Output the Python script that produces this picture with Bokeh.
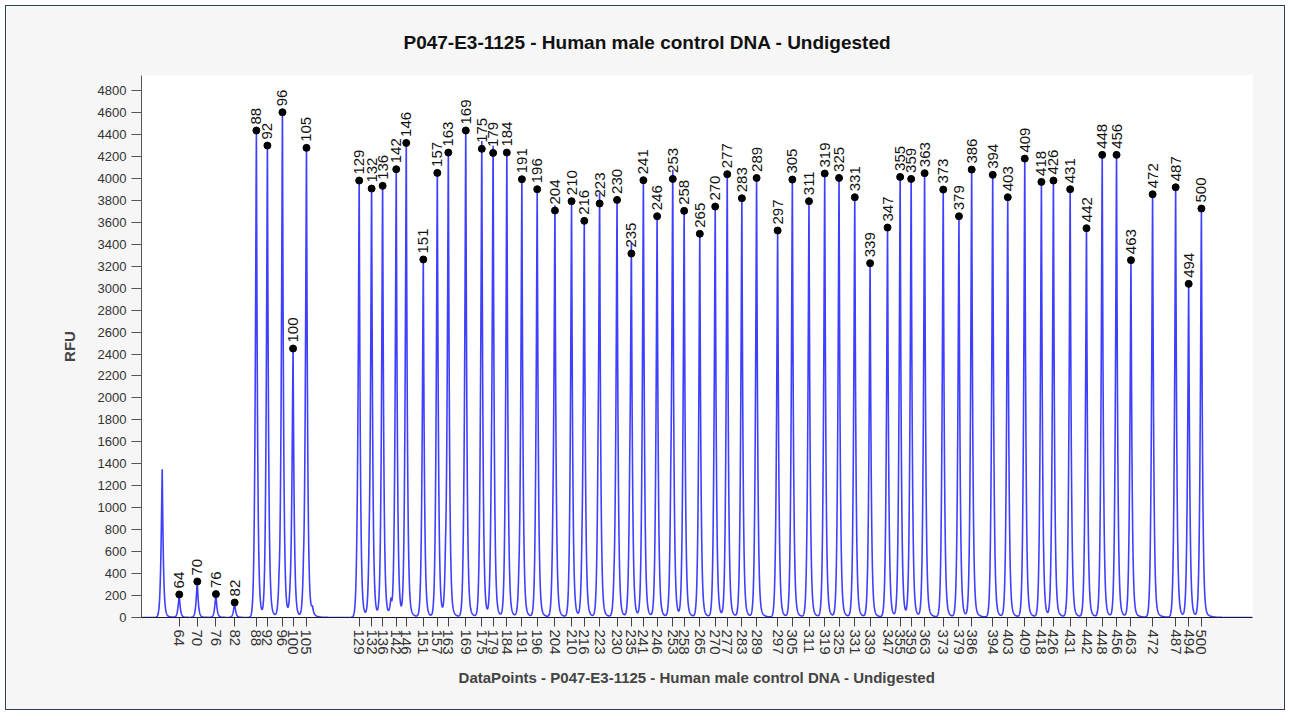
import math
import numpy as np
from bokeh.plotting import figure
from bokeh.models import Range1d, FixedTicker, ColumnDataSource
from bokeh.embed import file_html
from bokeh.resources import INLINE
from bokeh.core.properties import value

# ---- data -------------------------------------------------------------
sizes = [64, 70, 76, 82, 88, 92, 96, 100, 105, 129, 132, 136, 142, 146, 151,
         157, 163, 169, 175, 179, 184, 191, 196, 204, 210, 216, 223, 230, 235,
         241, 246, 253, 258, 265, 270, 277, 283, 289, 297, 305, 311, 319, 325,
         331, 339, 347, 355, 359, 363, 373, 379, 386, 394, 403, 409, 418, 426,
         431, 442, 448, 456, 463, 472, 487, 494, 500]

datapoints = [377, 557, 743, 930, 1147, 1257, 1407, 1513, 1647, 2173, 2297, 2407,
              2543, 2643, 2813, 2953, 3063, 3237, 3397, 3510, 3647, 3797, 3950,
              4127, 4293, 4420, 4573, 4747, 4890, 5010, 5147, 5303, 5417, 5573,
              5727, 5847, 5993, 6140, 6350, 6497, 6663, 6820, 6963, 7120, 7273,
              7447, 7573, 7683, 7817, 8003, 8160, 8287, 8497, 8647, 8817, 8983,
              9103, 9270, 9433, 9590, 9733, 9877, 10093, 10323, 10453, 10580]

rfu = [210, 328, 213, 137, 4436, 4299, 4602, 2450, 4278, 3980, 3907, 3932, 4083,
       4323, 3261, 4050, 4235, 4436, 4269, 4232, 4235, 3992, 3901, 3707, 3792,
       3613, 3771, 3804, 3315, 3983, 3655, 3995, 3704, 3495, 3743, 4038, 3819,
       4004, 3525, 3989, 3792, 4044, 4004, 3828, 3227, 3552, 4013, 3995, 4047,
       3898, 3655, 4080, 4032, 3828, 4180, 3968, 3980, 3901, 3546, 4214, 4214,
       3255, 3855, 3919, 3039, 3725]

primer_datapoint = [207]
primer_rfu = [1350]

minor_datapoints = [1373, 1483, 1617, 1707, 2150, 2273, 2490, 3035, 3217, 3383,
                    3490, 3767, 4107, 4397, 4557, 4717, 4873, 5283]
minor_rfu = [155, 82, 200, 64, 94, 200, 140, 255, 128, 218, 310, 128, 245, 155,
             367, 137, 400, 437]

y_ticks = list(range(0, 4801, 200))

title_text = "P047-E3-1125 - Human male control DNA - Undigested"
x_label = "DataPoints - P047-E3-1125 - Human male control DNA - Undigested"
y_label = "RFU"

# ---- trace built from the peak table -----------------------------------
all_pos = primer_datapoint + datapoints + minor_datapoints
all_h = primer_rfu + rfu + minor_rfu
x = np.unique(np.concatenate([np.arange(0, 11091, 2.0), np.array(all_pos, float)]))
trace = np.zeros_like(x)


def peak_shape(c, h):
    d = x - c
    left = d < 0
    right = ~left
    out = np.zeros_like(x)
    out[left] = np.exp(-(np.abs(d[left]) / 15.0) ** 1.3)
    dr = d[right]
    out[right] = 0.97 * np.exp(-(dr / 12.0) ** 1.1) + 0.03 * np.exp(-dr / 40.0)
    return h * out


for c, h in zip(all_pos, all_h):
    trace += peak_shape(c, h)

FONT = "Liberation Sans"

p = figure(width=1280, height=705, output_backend="svg", toolbar_location=None,
           x_range=Range1d(0, 11090), y_range=Range1d(0, 4937),
           min_border_left=135, min_border_right=34, min_border_top=69,
           min_border_bottom=94)
p.styles = {"margin": "5px", "border": "1px solid #2c3e5a"}
p.background_fill_color = "white"
p.border_fill_color = "#f6f6f6"
p.outline_line_color = None
p.xgrid.visible = False
p.ygrid.visible = False

p.title.text = title_text
p.title.align = "left"
p.title.offset = 262
p.title.text_font = FONT
p.title.text_font_size = "19px"
p.title.text_font_style = "bold"
p.title.text_color = "#111111"
p.title.standoff = 45

p.line(x, trace, line_color="#2a2aff", line_width=1.6, line_alpha=0.9)

src = ColumnDataSource(dict(x=datapoints, y=rfu, t=[str(s) for s in sizes]))
p.scatter("x", "y", source=src, size=7, color="black")
p.text("x", "y", text="t", source=src, angle=math.pi / 2, text_align="left",
       text_baseline="middle", y_offset=-6, text_font=value(FONT),
       text_font_size="15px", text_color="#111111")

# y axis
p.yaxis.ticker = FixedTicker(ticks=y_ticks)
p.yaxis.axis_label = y_label
p.yaxis.axis_label_text_font = FONT
p.yaxis.axis_label_text_font_size = "15px"
p.yaxis.axis_label_text_font_style = "bold"
p.yaxis.axis_label_standoff = 17
p.yaxis.major_label_text_font = FONT
p.yaxis.major_label_text_font_size = "13px"
p.yaxis.major_label_text_color = "#333333"
p.yaxis.axis_line_color = "#555555"
p.yaxis.major_tick_line_color = "#555555"
p.yaxis.major_tick_out = 10
p.yaxis.major_tick_in = 0
p.yaxis.minor_tick_line_color = None
p.yaxis.major_label_standoff = 5

# x axis
p.xaxis.ticker = FixedTicker(ticks=datapoints)
p.xaxis.major_label_overrides = {dp: str(s) for dp, s in zip(datapoints, sizes)}
p.xaxis.major_label_orientation = -math.pi / 2
p.xaxis.axis_label = x_label
p.xaxis.axis_label_text_font = FONT
p.xaxis.axis_label_text_font_size = "15px"
p.xaxis.axis_label_text_font_style = "bold"
p.xaxis.axis_label_standoff = 11
p.xaxis.major_label_text_font = FONT
p.xaxis.major_label_text_font_size = "15px"
p.xaxis.major_label_text_color = "#333333"
p.xaxis.axis_line_color = "#1a1a2e"
p.xaxis.major_tick_line_color = "#444444"
p.xaxis.major_tick_out = 9
p.xaxis.major_tick_in = 0
p.xaxis.minor_tick_line_color = None
p.xaxis.major_label_standoff = 3

open("out.html", "w").write(file_html(p, INLINE))
